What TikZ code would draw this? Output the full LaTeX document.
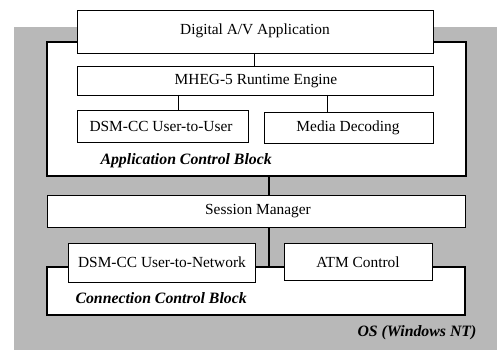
\documentclass[tikz,border=0pt]{standalone}
\usepackage{fontspec}
\setmainfont{Liberation Serif}
\tikzset{
  box/.style={draw=black, fill=white, line width=0.9pt, inner sep=0pt},
  outer/.style={draw=black, fill=white, line width=1.3pt},
  lbl/.style={font=\fontsize{15.4}{17}\selectfont},
  blk/.style={font=\fontsize{15.8}{17}\selectfont\bfseries\itshape, anchor=west},
  thin/.style={line width=0.8pt},
  thick link/.style={line width=2.6pt}
}
\begin{document}
\begin{tikzpicture}[x=1pt,y=-1pt]
\useasboundingbox (0,0) rectangle (497,350);
\fill[black!28] (14,27) rectangle (497,350);
% Application control block
\draw[outer] (47,42) rectangle (466,176);
\coordinate (acbtop) at (269,176);
\draw[box] (77,10) rectangle (433,53);
\node[lbl] (dav) at (255,31) {Digital A/V Application};
\draw[box] (77,66) rectangle (433,95);
\node[lbl] (mheg) at (256,81) {MHEG-5 Runtime Engine};
\draw[box] (77,110) rectangle (248,142);
\node[lbl] (uu) at (161,126) {DSM-CC User-to-User};
\draw[box] (264,112) rectangle (433,143);
\node[lbl] (md) at (348,128) {Media Decoding};
\node[blk] (acb) at (97,161) {Application Control Block};
\coordinate (c1a) at (254,53);
\coordinate (c1b) at (254,66);
\coordinate (c2a) at (178,95);
\coordinate (c2b) at (178,110);
\coordinate (c3a) at (327,95);
\coordinate (c3b) at (327,112);
\draw[thin] (c1a) -- (c1b);
\draw[thin] (c2a) -- (c2b);
\draw[thin] (c3a) -- (c3b);
% Session manager
\draw[box] (47,195) rectangle (465,227);
\node[lbl] (sm) at (258,211) {Session Manager};
\coordinate (smtop) at (269,195);
\coordinate (smbot) at (269,227);
\coordinate (ccbtop) at (269,267);
\draw[thick link] (acbtop) -- (smtop);
% Connection control block
\draw[outer] (47,267) rectangle (465,315);
\draw[thick link] (smbot) -- (ccbtop);
\draw[box] (68,243) rectangle (255,282);
\node[lbl] (un) at (162,262) {DSM-CC User-to-Network};
\draw[box] (284,243) rectangle (432,280);
\node[lbl] (atm) at (358,262) {ATM Control};
\node[blk] (ccb) at (72,298) {Connection Control Block};
\node[blk] (os) at (354,333) {OS (Windows NT)};
\end{tikzpicture}
\end{document}
